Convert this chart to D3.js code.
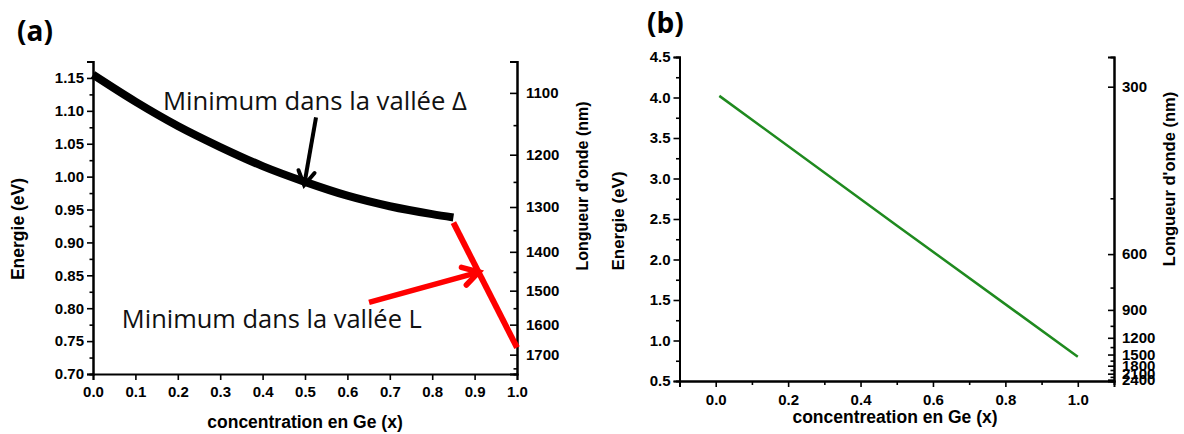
<!DOCTYPE html>
<html><head><meta charset="utf-8">
<script src="https://cdn.jsdelivr.net/npm/d3@7"></script>
<style>body{margin:0;background:#fff}svg{display:block}</style>
</head><body>
<svg id="chart" width="1184" height="434"></svg>
<script>
// ---------- DATA ----------
// Panel (a)
const deltaX = [0, 0.1, 0.2, 0.3, 0.4, 0.5, 0.6, 0.7, 0.8, 0.85];
const deltaE = [1.155, 1.114, 1.077, 1.045, 1.016, 0.992, 0.971, 0.955, 0.943, 0.938];
const lX = [0.85, 1.0];
const lE = [0.93, 0.74];
const aXTicks = [0, 0.1, 0.2, 0.3, 0.4, 0.5, 0.6, 0.7, 0.8, 0.9, 1.0];
const aYTicks = [0.70, 0.75, 0.80, 0.85, 0.90, 0.95, 1.00, 1.05, 1.10, 1.15];
const aYMinor = [0.725, 0.775, 0.825, 0.875, 0.925, 0.975, 1.025, 1.075, 1.125, 1.175];
const aWlTicks = [1100, 1200, 1300, 1400, 1500, 1600, 1700];
const aWlMinor = [1150, 1250, 1350, 1450, 1550, 1650, 1750];
// Panel (b)
const gammaX = [0.01, 0.5, 1.0];
const gammaE = [4.02, 2.42, 0.80];
const bXTicks = [0, 0.2, 0.4, 0.6, 0.8, 1.0];
const bXMinor = [0.1, 0.3, 0.5, 0.7, 0.9];
const bYTicks = [0.5, 1.0, 1.5, 2.0, 2.5, 3.0, 3.5, 4.0, 4.5];
const bYMinor = [0.75, 1.25, 1.75, 2.25, 2.75, 3.25, 3.75, 4.25];
const bWlTicks = [300, 600, 900, 1200, 1500, 1800, 2100, 2400];
const bWlMinor = [450, 750, 1050, 1350, 1650, 1950, 2250];
const hc = 1240; // eV·nm conversion

const svg = d3.select("#chart");
svg.append("rect").attr("width",1184).attr("height",434).attr("fill","#fff");
const tickFont = "Liberation Sans, Arial, sans-serif";

function styleAxis(g, fs){
  g.selectAll("path.domain").attr("stroke","#000").attr("stroke-width",2);
  g.selectAll(".tick line").attr("stroke","#000").attr("stroke-width",1.6);
  g.selectAll(".tick text").attr("font-family",tickFont).attr("font-weight","bold")
    .attr("font-size",fs).attr("fill","#000");
}

// ================= PANEL (a) =================
const xA = d3.scaleLinear().domain([0,1]).range([93,517]);
const yA = d3.scaleLinear().domain([0.70,1.175]).range([374,61.5]);
const gA = svg.append("g");

// bottom axis
gA.append("g").attr("transform",`translate(0,${yA(0.70)})`)
  .call(d3.axisBottom(xA).tickValues(aXTicks).tickFormat(d3.format(".1f")).tickSizeOuter(0).tickSize(6).tickPadding(6))
  .call(g=>styleAxis(g,15));
// left axis
gA.append("g").attr("transform",`translate(${xA(0)},0)`)
  .call(d3.axisLeft(yA).tickValues(aYTicks).tickFormat(d3.format(".2f")).tickSizeOuter(0).tickSize(6).tickPadding(3))
  .call(g=>styleAxis(g,15));
gA.append("g").attr("transform",`translate(${xA(0)},0)`)
  .call(d3.axisLeft(yA).tickValues(aYMinor).tickFormat("").tickSizeOuter(0).tickSize(3.5))
  .call(g=>styleAxis(g,15));
// right axis (wavelength), ticks inward
gA.append("g").attr("transform",`translate(${xA(1)},0)`)
  .call(d3.axisRight(yA).tickValues(aWlTicks.map(l=>hc/l)).tickFormat(e=>Math.round(hc/e)).tickSizeOuter(0).tickSize(-7).tickPadding(9))
  .call(g=>styleAxis(g,15));
gA.append("g").attr("transform",`translate(${xA(1)},0)`)
  .call(d3.axisRight(yA).tickValues(aWlMinor.map(l=>hc/l)).tickFormat("").tickSizeOuter(0).tickSize(-3.5))
  .call(g=>styleAxis(g,15));

const lineA = d3.line().x(d=>xA(d[0])).y(d=>yA(d[1])).curve(d3.curveMonotoneX);
gA.append("path").datum(deltaX.map((x,i)=>[x,deltaE[i]]))
  .attr("d",lineA).attr("fill","none").attr("stroke","#000").attr("stroke-width",8);
gA.append("path").datum(lX.map((x,i)=>[x,lE[i]]))
  .attr("d",d3.line().x(d=>xA(d[0])).y(d=>yA(d[1]))).attr("fill","none").attr("stroke","#f00").attr("stroke-width",6);

// arrows
function arrow(g, x1,y1,x2,y2,color,w,hl){
  const ang = Math.atan2(y2-y1,x2-x1);
  g.append("line").attr("x1",x1).attr("y1",y1).attr("x2",x2).attr("y2",y2)
    .attr("stroke",color).attr("stroke-width",w);
  const a1 = ang+Math.PI*0.83, a2 = ang-Math.PI*0.83;
  g.append("path").attr("d",`M${x2+hl*Math.cos(a1)},${y2+hl*Math.sin(a1)}L${x2},${y2}L${x2+hl*Math.cos(a2)},${y2+hl*Math.sin(a2)}`)
    .attr("fill","none").attr("stroke",color).attr("stroke-width",w).attr("stroke-linejoin","miter").attr("stroke-linecap","round");
}
arrow(gA, xA(0.526), yA(1.090), xA(0.498), yA(0.987), "#000", 4, 16);
arrow(gA, xA(0.651), yA(0.809), xA(0.910), yA(0.855), "#f00", 5.5, 18);

// annotations
gA.append("text").attr("x",xA(0.165)).attr("y",yA(1.101)).text("Minimum dans la vallée Δ")
  .attr("font-family","Open Sans, sans-serif").attr("font-size",25).attr("fill","#111")
  .attr("textLength",304).attr("lengthAdjust","spacingAndGlyphs");
gA.append("text").attr("x",xA(0.068)).attr("y",yA(0.770)).text("Minimum dans la vallée L")
  .attr("font-family","Open Sans, sans-serif").attr("font-size",25).attr("fill","#111")
  .attr("textLength",300).attr("lengthAdjust","spacingAndGlyphs");

// titles
svg.append("text").attr("x",17).attr("y",41).text("(a)")
  .attr("font-family","Open Sans, sans-serif").attr("font-weight","bold").attr("font-size",28);
svg.append("text").attr("x",305).attr("y",428).attr("text-anchor","middle").text("concentration en Ge (x)")
  .attr("font-family",tickFont).attr("font-weight","bold").attr("font-size",17.5);
svg.append("text").attr("transform","translate(24,229) rotate(-90)").attr("text-anchor","middle").text("Energie (eV)")
  .attr("font-family",tickFont).attr("font-weight","bold").attr("font-size",17.5);
svg.append("text").attr("transform","translate(588,186) rotate(-90)").attr("text-anchor","middle").text("Longueur d'onde (nm)")
  .attr("font-family",tickFont).attr("font-weight","bold").attr("font-size",16);

// ================= PANEL (b) =================
const xB = d3.scaleLinear().domain([-0.1,1.1]).range([679.5,1114]);
const yB = d3.scaleLinear().domain([0.5,4.5]).range([381,57]);
const gB = svg.append("g");

gB.append("g").attr("transform",`translate(0,${yB(0.5)})`)
  .call(d3.axisBottom(xB).tickValues(bXTicks).tickFormat(d3.format(".1f")).tickSizeOuter(0).tickSize(6).tickPadding(7))
  .call(g=>styleAxis(g,15));
gB.append("g").attr("transform",`translate(0,${yB(0.5)})`)
  .call(d3.axisBottom(xB).tickValues(bXMinor).tickFormat("").tickSizeOuter(0).tickSize(4))
  .call(g=>styleAxis(g,15));
gB.append("g").attr("transform",`translate(${xB(-0.1)},0)`)
  .call(d3.axisLeft(yB).tickValues(bYTicks).tickFormat(d3.format(".1f")).tickSizeOuter(0).tickSize(6).tickPadding(3))
  .call(g=>styleAxis(g,15));
gB.append("g").attr("transform",`translate(${xB(-0.1)},0)`)
  .call(d3.axisLeft(yB).tickValues(bYMinor).tickFormat("").tickSizeOuter(0).tickSize(3.5))
  .call(g=>styleAxis(g,15));
gB.append("g").attr("transform",`translate(${xB(1.1)},0)`)
  .call(d3.axisRight(yB).tickValues(bWlTicks.map(l=>hc/l)).tickFormat(e=>Math.round(hc/e)).tickSizeOuter(0).tickSize(-6).tickPadding(8))
  .call(g=>styleAxis(g,15));
gB.append("g").attr("transform",`translate(${xB(1.1)},0)`)
  .call(d3.axisRight(yB).tickValues(bWlMinor.map(l=>hc/l)).tickFormat("").tickSizeOuter(0).tickSize(-3.5))
  .call(g=>styleAxis(g,15));

gB.append("path").datum(gammaX.map((x,i)=>[x,gammaE[i]]))
  .attr("d",d3.line().x(d=>xB(d[0])).y(d=>yB(d[1]))).attr("fill","none").attr("stroke","#1f8a1f").attr("stroke-width",2.5);

svg.append("text").attr("x",647).attr("y",33).text("(b)")
  .attr("font-family","Open Sans, sans-serif").attr("font-weight","bold").attr("font-size",28);
svg.append("text").attr("x",895).attr("y",423).attr("text-anchor","middle").text("concentreation en Ge (x)")
  .attr("font-family",tickFont).attr("font-weight","bold").attr("font-size",17.5);
svg.append("text").attr("transform","translate(624,221) rotate(-90)").attr("text-anchor","middle").text("Energie (eV)")
  .attr("font-family",tickFont).attr("font-weight","bold").attr("font-size",17);
svg.append("text").attr("transform","translate(1175,179) rotate(-90)").attr("text-anchor","middle").text("Longueur d'onde (nm)")
  .attr("font-family",tickFont).attr("font-weight","bold").attr("font-size",16.5);
</script>
</body></html>
